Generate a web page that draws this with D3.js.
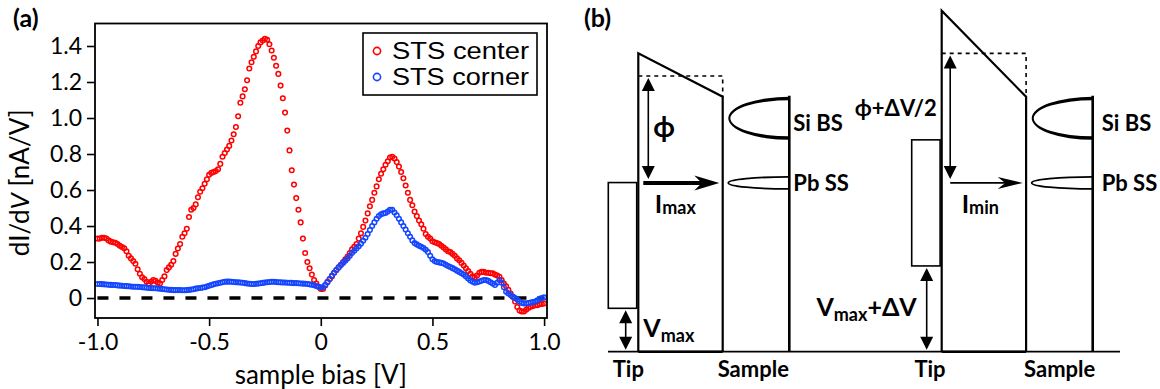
<!DOCTYPE html>
<html>
<head>
<meta charset="utf-8">
<script src="https://cdn.jsdelivr.net/npm/d3@7"></script>
<style>
  body { margin: 0; background: #fff; }
  svg { display: block; font-family: Lato, "Open Sans", sans-serif; }
</style>
</head>
<body>
<svg id="fig" width="1160" height="389"></svg>
<script>
// ---- panel (a) data: dI/dV spectra, one value every 10 mV from -1.0 V to 1.0 V
var biasStart = -1.0, biasStep = 0.01;
var seriesNames = ["STS center", "STS corner"];
var seriesColors = ["#ff0000", "#1446ff"];

var stsCenter = [
  0.33,0.33,0.335,0.335,0.33,0.32,0.313,0.31,0.307,0.30,
  0.29,0.283,0.276,0.26,0.235,0.22,0.205,0.19,0.16,0.135,
  0.115,0.105,0.09,0.08,0.09,0.10,0.095,0.085,0.08,0.10,
  0.12,0.155,0.17,0.185,0.205,0.245,0.275,0.30,0.34,0.36,
  0.385,0.45,0.49,0.50,0.52,0.56,0.59,0.61,0.635,0.66,
  0.685,0.695,0.70,0.705,0.715,0.745,0.785,0.805,0.825,0.845,
  0.875,0.91,0.95,1.01,1.085,1.12,1.16,1.21,1.275,1.31,
  1.34,1.37,1.40,1.42,1.43,1.44,1.435,1.41,1.375,1.335,
  1.29,1.245,1.18,1.11,1.03,0.93,0.82,0.71,0.63,0.555,
  0.49,0.42,0.33,0.25,0.20,0.165,0.13,0.10,0.08,0.062,
  0.05,0.05,0.07,0.09,0.105,0.12,0.14,0.155,0.17,0.185,
  0.20,0.215,0.23,0.25,0.27,0.285,0.30,0.33,0.36,0.395,
  0.43,0.47,0.51,0.545,0.585,0.62,0.66,0.69,0.715,0.74,
  0.76,0.78,0.785,0.775,0.755,0.73,0.70,0.665,0.625,0.585,
  0.545,0.515,0.48,0.455,0.43,0.41,0.385,0.355,0.34,0.33,
  0.315,0.31,0.305,0.30,0.29,0.28,0.27,0.26,0.255,0.245,
  0.235,0.22,0.21,0.195,0.18,0.165,0.15,0.135,0.12,0.115,
  0.125,0.14,0.145,0.145,0.14,0.14,0.138,0.137,0.13,0.125,
  0.118,0.10,0.08,0.065,0.045,0.025,0.005,-0.02,-0.05,-0.07,
  -0.075,-0.075,-0.065,-0.055,-0.048,-0.045,-0.04,-0.04,-0.035,-0.033,
  -0.03
];

var stsCorner = [
  0.078,0.078,0.077,0.076,0.075,0.074,0.073,0.072,0.072,0.07,
  0.069,0.068,0.067,0.066,0.065,0.064,0.063,0.063,0.062,0.061,
  0.06,0.059,0.058,0.056,0.055,0.054,0.054,0.053,0.052,0.05,
  0.049,0.047,0.046,0.045,0.044,0.044,0.044,0.044,0.043,0.043,
  0.044,0.045,0.047,0.049,0.052,0.054,0.056,0.058,0.06,0.064,
  0.068,0.072,0.076,0.079,0.082,0.085,0.088,0.09,0.091,0.091,
  0.09,0.089,0.088,0.087,0.086,0.085,0.083,0.081,0.079,0.078,
  0.078,0.079,0.08,0.082,0.084,0.086,0.088,0.089,0.09,0.09,
  0.089,0.088,0.087,0.086,0.086,0.085,0.085,0.084,0.083,0.083,
  0.082,0.081,0.08,0.079,0.078,0.076,0.074,0.071,0.067,0.062,
  0.058,0.06,0.072,0.088,0.105,0.125,0.14,0.155,0.17,0.183,
  0.195,0.207,0.22,0.235,0.25,0.262,0.275,0.288,0.302,0.318,
  0.335,0.355,0.378,0.40,0.42,0.44,0.455,0.465,0.47,0.472,
  0.48,0.49,0.49,0.475,0.46,0.44,0.42,0.40,0.38,0.36,
  0.34,0.32,0.305,0.298,0.29,0.285,0.278,0.268,0.255,0.235,
  0.215,0.205,0.2,0.198,0.195,0.192,0.185,0.178,0.172,0.166,
  0.16,0.152,0.145,0.138,0.13,0.12,0.108,0.098,0.09,0.085,
  0.088,0.092,0.096,0.1,0.1,0.095,0.088,0.08,0.072,0.085,
  0.1,0.085,0.06,0.035,0.025,0.015,0.008,0.0,-0.01,-0.02,
  -0.028,-0.03,-0.03,-0.028,-0.025,-0.022,-0.02,-0.012,-0.005,0.0,
  0.004
];

var xTicks = [-1.0, -0.5, 0, 0.5, 1.0];
var yTicks = [0, 0.2, 0.4, 0.6, 0.8, 1.0, 1.2, 1.4];

// ---- panel (b) data: energy levels (arbitrary units, 0 = sample Fermi line)
var tipTop = [49.5, 62.0];
var tipBottom = [12.7, 25.1];
var barrierPeak = [87.3, 99.8];
var barrierMean = [80.7, 87.3];
var sampleVacuum = [74.6, 74.6];
var siBand = [62.0, 74.6];
var pbLevel = 49.4;
var phiText = ["ϕ", "ϕ+ΔV/2"];
var currentSub = ["max", "min"];
var biasSuffix = ["", "+ΔV"];

var svg = d3.select("#fig");

function fmtTick(d) { return d === 0 ? "0" : d.toFixed(1); }

// ================= panel (a) =================
var x = d3.scaleLinear().domain([-1.011, 1.013]).range([95, 547]);
var y = d3.scaleLinear().domain([-0.111, 1.525]).range([318, 23.5]);

var xAxis = svg.append("g")
    .attr("transform", "translate(0,318)")
    .call(d3.axisBottom(x).tickValues(xTicks).tickSize(8).tickPadding(8).tickFormat(fmtTick));
xAxis.select(".domain").remove();

var yAxis = svg.append("g")
    .attr("transform", "translate(95,0)")
    .call(d3.axisLeft(y).tickValues(yTicks).tickSize(8).tickPadding(5).tickFormat(fmtTick));
yAxis.select(".domain").remove();

[xAxis, yAxis].forEach(function(a) {
  a.attr("font-family", null).attr("font-size", 23);
  a.selectAll("line").attr("stroke-width", 1.6);
  a.selectAll("text").attr("fill", "#000");
});

svg.append("text")
    .attr("x", (x(-1) + x(1)) / 2)
    .attr("y", 384)
    .attr("text-anchor", "middle")
    .attr("font-size", 26)
    .text("sample bias [V]");

var yLab = svg.append("text")
    .attr("transform", "translate(29," + y(0.64) + ") rotate(-90)")
    .attr("text-anchor", "middle")
    .attr("font-size", 26);
yLab.append("tspan").text("dI/d");
yLab.append("tspan").attr("font-style", "italic").text("V");
yLab.append("tspan").text(" [nA/V]");

svg.append("line")
    .attr("x1", x(-1)).attr("x2", x(1))
    .attr("y1", y(0)).attr("y2", y(0))
    .attr("stroke", "#000")
    .attr("stroke-width", 3.5)
    .attr("stroke-dasharray", "11,11");

[stsCenter, stsCorner].forEach(function(vals, k) {
  svg.append("g")
    .selectAll("circle")
    .data(vals)
    .join("circle")
      .attr("cx", function(d, i) { return x(biasStart + i * biasStep); })
      .attr("cy", function(d) { return y(d); })
      .attr("r", 2.3)
      .attr("fill", "none")
      .attr("stroke", seriesColors[k])
      .attr("stroke-width", 1.5);
});

svg.append("rect")
    .attr("x", 95).attr("y", 23.5)
    .attr("width", 452).attr("height", 294.5)
    .attr("fill", "none")
    .attr("stroke", "#000")
    .attr("stroke-width", 1.8);

// legend
var legend = svg.append("g").attr("transform", "translate(363,33)");
legend.append("rect")
    .attr("width", 174).attr("height", 62)
    .attr("fill", "#fff")
    .attr("stroke", "#000")
    .attr("stroke-width", 1.6);
seriesNames.forEach(function(name, k) {
  legend.append("circle")
    .attr("cx", 14).attr("cy", 18 + k * 26)
    .attr("r", 3.6)
    .attr("fill", "none")
    .attr("stroke", seriesColors[k])
    .attr("stroke-width", 1.6);
  legend.append("text")
    .attr("x", 29).attr("y", 26 + k * 26)
    .attr("font-family", "Liberation Sans, Arial, sans-serif")
    .attr("font-size", 23)
    .attr("textLength", 137)
    .attr("lengthAdjust", "spacingAndGlyphs")
    .text(name);
});

svg.append("text")
    .attr("x", 13).attr("y", 27)
    .attr("font-size", 25).attr("font-weight", 700)
    .text("(a)");

// ================= panel (b) =================
svg.append("text")
    .attr("x", 584).attr("y", 27)
    .attr("font-size", 25).attr("font-weight", 700)
    .text("(b)");

var e = d3.scaleLinear().domain([0, 100]).range([351.7, 10]);
var panelX = [638.3, 941.7];

svg.append("line")
    .attr("x1", 608).attr("x2", 1120)
    .attr("y1", e(0)).attr("y2", e(0))
    .attr("stroke", "#000").attr("stroke-width", 1.8);

function head(g, hx, hy, angle, len, wid, notch) {
  g.append("path")
    .attr("d", "M0,0L" + (-len) + "," + (-wid / 2) + "L" + (-len * notch) + ",0L" + (-len) + "," + (wid / 2) + "Z")
    .attr("transform", "translate(" + hx + "," + hy + ") rotate(" + angle + ")")
    .attr("fill", "#000");
}

function vArrow(g, ax, y1, y2) {
  g.append("line")
    .attr("x1", ax).attr("x2", ax)
    .attr("y1", y1 + 10).attr("y2", y2 - 10)
    .attr("stroke", "#000").attr("stroke-width", 1.6);
  head(g, ax, y1, -90, 13, 13, 1);
  head(g, ax, y2, 90, 13, 13, 1);
}

panelX.forEach(function(x0, p) {
  var g = svg.append("g").attr("transform", "translate(" + x0 + ",0)");
  var wallR = 84.4, sampleX = 151, lobeX = 90;

  // tip
  g.append("rect")
    .attr("x", -30).attr("y", e(tipTop[p]))
    .attr("width", 28.4).attr("height", e(tipBottom[p]) - e(tipTop[p]))
    .attr("fill", "none").attr("stroke", "#000").attr("stroke-width", 1.6);

  // vacuum barrier
  g.append("path")
    .attr("d", "M0," + e(0) + "V" + e(barrierPeak[p]) + "L" + wallR + "," + e(sampleVacuum[p]) + "V" + e(0))
    .attr("fill", "none").attr("stroke", "#000").attr("stroke-width", 2.2)
    .attr("stroke-linejoin", "miter");
  g.append("path")
    .attr("d", "M0," + e(barrierMean[p]) + "H" + wallR + "V" + e(sampleVacuum[p]))
    .attr("fill", "none").attr("stroke", "#000").attr("stroke-width", 1.6)
    .attr("stroke-dasharray", "4,4");
  g.append("line")
    .attr("x1", 0).attr("x2", wallR)
    .attr("y1", e(0)).attr("y2", e(0))
    .attr("stroke", "#000").attr("stroke-width", 2.6);

  // sample
  g.append("line")
    .attr("x1", sampleX).attr("x2", sampleX)
    .attr("y1", e(sampleVacuum[p]) - 1).attr("y2", e(0))
    .attr("stroke", "#000").attr("stroke-width", 2.6);

  var sTop = e(siBand[1]), sBot = e(siBand[0]), sc = (sTop + sBot) / 2, rx = sampleX - lobeX;
  var ro = (sBot - sTop) / 2, ri = ro - 3.5;
  g.append("path")
    .attr("d", "M" + sampleX + "," + (sc - ro) + "A" + rx + "," + ro + " 0 0 0 " + sampleX + "," + (sc + ro) +
               "L" + sampleX + "," + (sc + ri) + "A" + (rx - 2) + "," + ri + " 0 0 1 " + sampleX + "," + (sc - ri) + "Z")
    .attr("fill", "#000");

  var pc = e(pbLevel);
  g.append("path")
    .attr("d", "M" + sampleX + "," + (pc - 6) + "A" + rx + ",6 0 0 0 " + sampleX + "," + (pc + 6))
    .attr("fill", "none").attr("stroke", "#000").attr("stroke-width", 1.8);

  // phi arrow
  var phiX = p === 0 ? 10 : 8.5;
  vArrow(g, phiX, e(barrierMean[p]) + 2, e(pbLevel) - 4);

  // current arrow
  var thick = p === 0;
  g.append("line")
    .attr("x1", thick ? 5 : 8.5).attr("x2", 65)
    .attr("y1", e(pbLevel)).attr("y2", e(pbLevel))
    .attr("stroke", "#000").attr("stroke-width", thick ? 4 : 1.6);
  head(g, 81, e(pbLevel), 0, 25, thick ? 15 : 12, 0.7);

  // bias arrow
  vArrow(g, p === 0 ? -12.6 : -15, e(tipBottom[p]) + 2, e(0) - 2);

  // labels
  var lab = g.append("g").attr("font-weight", 700).attr("fill", "#000");
  if (p === 0) {
    lab.append("text").attr("x", 15).attr("y", 137).attr("font-size", 28).text(phiText[p]);
  } else {
    lab.append("text").attr("x", -5).attr("y", 116).attr("text-anchor", "end").attr("font-size", 22).text(phiText[p]);
  }

  var cur = lab.append("text").attr("x", p === 0 ? 16.5 : 20).attr("y", 213).attr("font-size", 25);
  cur.append("tspan").text("I");
  cur.append("tspan").attr("font-size", 18).attr("dy", 1).text(currentSub[p]);

  var vb = lab.append("text").attr("font-size", 25);
  if (p === 0) {
    vb.attr("x", 5).attr("y", 337);
  } else {
    vb.attr("x", -25).attr("y", 316).attr("text-anchor", "end");
  }
  vb.append("tspan").text("V");
  vb.append("tspan").attr("font-size", 18).attr("dy", 5).text("max");
  vb.append("tspan").attr("dy", -5).text(biasSuffix[p]);

  lab.append("text").attr("x", p === 0 ? 155 : 160).attr("y", 131).attr("font-size", 22).text("Si BS");
  lab.append("text").attr("x", p === 0 ? 155 : 160).attr("y", 191).attr("font-size", 22).text("Pb SS");
  lab.append("text").attr("x", p === 0 ? -10 : -11.7).attr("y", 377).attr("text-anchor", "middle").attr("font-size", 22).text("Tip");
  lab.append("text").attr("x", p === 0 ? 115 : 118).attr("y", 377).attr("text-anchor", "middle").attr("font-size", 22).text("Sample");
});
</script>
</body>
</html>
